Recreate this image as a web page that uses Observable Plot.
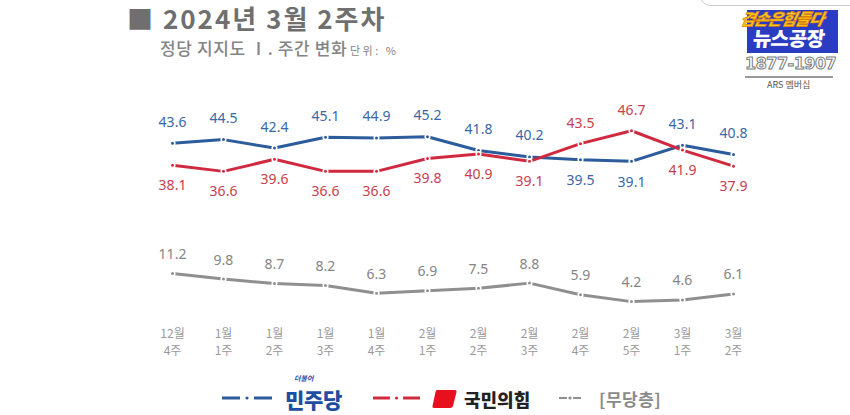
<!DOCTYPE html>
<html>
<head>
<meta charset="utf-8">
<script src="https://cdn.jsdelivr.net/npm/d3@7"></script>
<script src="https://cdn.jsdelivr.net/npm/@observablehq/plot@0.6"></script>
<style>
  html, body { margin: 0; padding: 0; background: #fff; }
  body { width: 850px; height: 415px; position: relative; overflow: hidden; font-family: "Noto Sans CJK KR", "Noto Sans", sans-serif; }
  .abs { position: absolute; white-space: nowrap; line-height: 1.15; }
</style>
</head>
<body>
<script>
// ---- data ----
const months = ["12월","1월","1월","1월","1월","2월","2월","2월","2월","2월","3월","3월"];
const weekNums = ["4주","1주","2주","3주","4주","1주","2주","3주","4주","5주","1주","2주"];
const democratic = [43.6,44.5,42.4,45.1,44.9,45.2,41.8,40.2,39.5,39.1,43.1,40.8];
const ppp = [38.1,36.6,39.6,36.6,36.6,39.8,40.9,39.1,43.5,46.7,41.9,37.9];
const independent = [11.2,9.8,8.7,8.2,6.3,6.9,7.5,8.8,5.9,4.2,4.6,6.1];
const seriesNames = ["민주당","국민의힘","무당층"];
const title = "■ 2024년 3월 2주차";
const subtitle = "정당 지지도 Ⅰ. 주간 변화";
const unit = "단위: %";

const colors = { blue: "#2d5c9c", red: "#d02a40", gray: "#8f8f8f" };
const labelColors = { blue: "#3a68a6", red: "#c8404f", gray: "#858585" };

const weeks = months.map((m, i) => m + " " + weekNums[i]);
const blueRows = weeks.map((w, i) => ({ week: w, value: democratic[i], above: democratic[i] >= ppp[i] }));
const redRows = weeks.map((w, i) => ({ week: w, value: ppp[i], above: ppp[i] > democratic[i] }));
const grayRows = weeks.map((w, i) => ({ week: w, value: independent[i] }));
const tickRows = weeks.map((w, i) => ({ week: w, month: months[i], wk: weekNums[i] }));

const fmt = d => d.value.toFixed(1);

function seriesMarks(rows, key) {
  return [
    Plot.line(rows, { x: "week", y: "value", stroke: colors[key], strokeWidth: 3 }),
    Plot.dot(rows, { x: "week", y: "value", r: 2.3, fill: colors[key], stroke: "white", strokeWidth: 1.6 }),
  ];
}
function labelMarks(rows, key, offset) {
  return [
    Plot.text(rows.filter(d => d.above !== false), { x: "week", y: "value", text: fmt, dy: -offset, fill: labelColors[key], fontSize: 14 }),
    Plot.text(rows.filter(d => d.above === false), { x: "week", y: "value", text: fmt, dy: offset, fill: labelColors[key], fontSize: 14 }),
  ];
}

const tickFont = "'Noto Sans CJK KR', sans-serif";
const chart = Plot.plot({
  width: 850,
  height: 270,
  marginLeft: 167,
  marginRight: 112,
  marginTop: 17,
  marginBottom: 52,
  style: { fontFamily: "'Noto Sans', 'Noto Sans CJK KR', sans-serif", background: "transparent" },
  x: { type: "point", domain: weeks, padding: 0, axis: null },
  y: { domain: [0, 50], axis: null },
  marks: [
    ...seriesMarks(grayRows, "gray"),
    ...seriesMarks(blueRows, "blue"),
    ...seriesMarks(redRows, "red"),
    ...labelMarks(blueRows, "blue", 21),
    ...labelMarks(redRows, "red", 20),
    ...labelMarks(grayRows, "gray", 19),
    Plot.text(tickRows, { x: "week", frameAnchor: "bottom", text: "month", dy: 19, fontSize: 12, fill: "#9a9a9a", fontFamily: tickFont }),
    Plot.text(tickRows, { x: "week", frameAnchor: "bottom", text: "wk", dy: 36.5, fontSize: 12, fill: "#9a9a9a", fontFamily: tickFont })
  ]
});

const wrap = document.createElement("div");
wrap.className = "abs";
wrap.style.left = "0px";
wrap.style.top = "100px";
wrap.style.lineHeight = "0";
wrap.appendChild(chart);
document.body.appendChild(wrap);

function addDiv(html, css) {
  const d = document.createElement("div");
  d.className = "abs";
  d.innerHTML = html;
  Object.assign(d.style, css);
  document.body.appendChild(d);
  return d;
}

// Title and subtitle
addDiv(title, { left: "127px", top: "3px", fontSize: "26px", fontWeight: "700", color: "#6f6f6f", letterSpacing: "2px" });
addDiv(subtitle, { left: "160px", top: "38px", fontSize: "17px", fontWeight: "500", color: "#858585", letterSpacing: "0.6px" });
addDiv(unit, { left: "350px", top: "44px", fontSize: "11px", color: "#858585", letterSpacing: "2.5px" });

// top-right rounded frame
addDiv("", { left: "700px", top: "-22px", width: "170px", height: "26px", border: "1px solid #d0d0d0", borderRadius: "10px" });

// Logo
addDiv("", { left: "747px", top: "10px", width: "91px", height: "43px", background: "#2a3cc2" });
addDiv("겸손은힘들다", { left: "741px", top: "9px", fontSize: "16px", fontWeight: "900", fontStyle: "italic", color: "#f7c51c", transform: "skewX(-12deg)", webkitTextStroke: "0.6px #e07b00", letterSpacing: "-1px" });
addDiv("뉴스공장", { left: "753px", top: "28px", fontSize: "20px", fontWeight: "900", color: "#ffffff", letterSpacing: "-0.5px", transform: "skewX(-6deg)", lineHeight: "1" });
addDiv("1877-1907", { left: "745px", top: "56px", fontSize: "16px", fontWeight: "700", color: "#ffffff", webkitTextStroke: "1px #7a7a7a", fontFamily: "'DejaVu Sans', sans-serif", letterSpacing: "-0.5px", lineHeight: "1" });
addDiv("", { left: "745px", top: "76px", width: "88px", height: "2px", background: "#9a9a9a" });
addDiv("ARS 멤버십", { left: "767px", top: "80px", fontSize: "9px", color: "#555" });

// Legend
function legendSymbol(left, color, w, sw) {
  const s = `<svg width="${w}" height="10"><line x1="0" x2="${w*0.36}" y1="5" y2="5" stroke="${color}" stroke-width="${sw}"/><circle cx="${w/2}" cy="5" r="1.6" fill="${color}"/><line x1="${w*0.64}" x2="${w}" y1="5" y2="5" stroke="${color}" stroke-width="${sw}"/></svg>`;
  addDiv(s, { left: left + "px", top: "393px", lineHeight: "0" });
}
legendSymbol(222, colors.blue, 50, 3);
addDiv("더불어", { left: "294px", top: "375px", fontSize: "7px", fontWeight: "700", color: "#1f4ea0", fontStyle: "italic", lineHeight: "1" });
addDiv(seriesNames[0], { left: "285px", top: "389px", fontSize: "21px", fontWeight: "900", color: "#1f4ea0", letterSpacing: "-0.3px", lineHeight: "1" });
legendSymbol(373, colors.red, 47, 3);
addDiv(`<svg width="26" height="22"><path d="M6 2 H24 Q26 2 25.5 4 L22 18 Q21.4 20 19 20 H3 Q1 20 1.5 18 L4.5 4 Q5 2 6 2 Z" fill="#e8101e"/></svg>`, { left: "431px", top: "388px", lineHeight: "0" });
addDiv(seriesNames[1], { left: "464px", top: "390px", fontSize: "18px", fontWeight: "900", color: "#222", lineHeight: "1" });
legendSymbol(559, colors.gray, 22, 2);
addDiv("[" + seriesNames[2] + "]", { left: "599px", top: "390px", fontSize: "17px", fontWeight: "700", color: "#8a8a8a", letterSpacing: "0.5px", lineHeight: "1" });
</script>
</body>
</html>
